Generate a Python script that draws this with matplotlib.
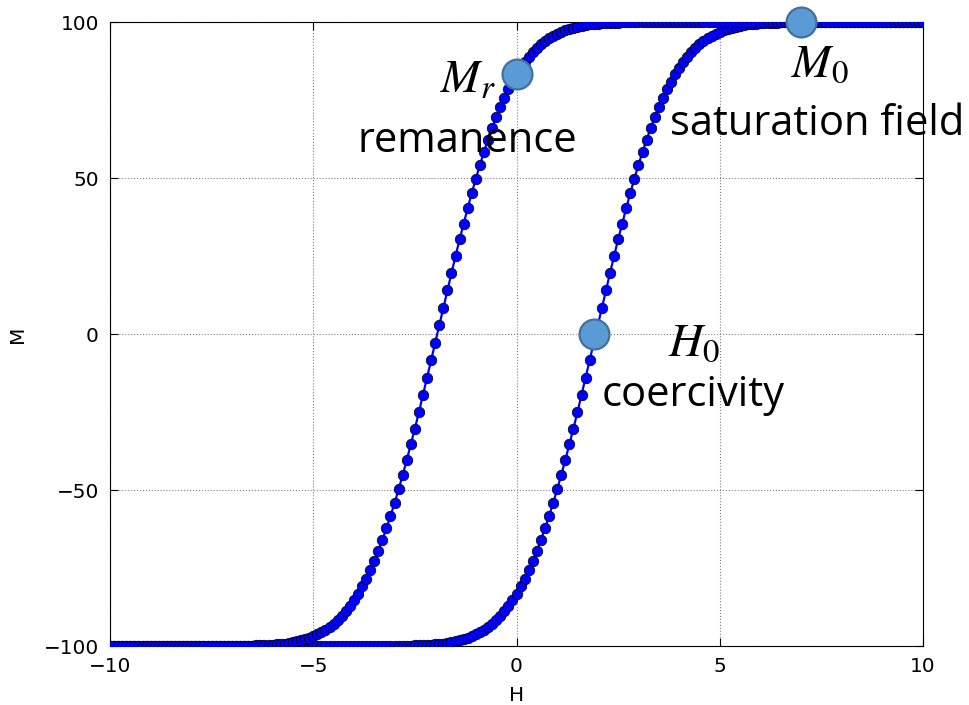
import numpy as np
import matplotlib
matplotlib.use("Agg")
import matplotlib.pyplot as plt

# Campo aplicado H, muestreado cada 0.1 entre -10 y 10
H = np.linspace(-10, 10, 201)

# Rama ascendente (de -100 a 100)
M_up = [
    -100, -100, -100, -100, -100, -100, -100, -100, -100, -100,
    -100, -100, -100, -100, -100, -100, -100, -100, -100, -100,
    -100, -100, -100, -100, -100, -100, -100, -100, -100, -100,
    -100, -100, -100, -100, -100, -100, -100, -100, -100, -100,
    -100, -100, -100, -100, -100, -100, -100, -100, -100, -100,
    -100, -100, -100, -100, -100, -100, -100, -100, -100, -100,
    -100, -100, -100, -100, -100, -100, -100, -100, -100, -100,
    -100, -99.9, -99.9, -99.9, -99.9, -99.8, -99.8, -99.7, -99.7, -99.6,
    -99.5, -99.3, -99.2, -99.0, -98.8, -98.5, -98.2, -97.8, -97.4, -96.9,
    -96.3, -95.6, -94.8, -93.9, -92.9, -91.7, -90.3, -88.8, -87.2, -85.3,
    -83.2, -80.9, -78.4, -75.7, -72.7, -69.5, -66.0, -62.3, -58.4, -54.2,
    -49.8, -45.2, -40.4, -35.4, -30.3, -25.0, -19.5, -14.0, -8.4, -2.8,
    2.8, 8.4, 14.0, 19.5, 25.0, 30.3, 35.4, 40.4, 45.2, 49.8,
    54.2, 58.4, 62.3, 66.0, 69.5, 72.7, 75.7, 78.4, 80.9, 83.2,
    85.3, 87.2, 88.8, 90.3, 91.7, 92.9, 93.9, 94.8, 95.6, 96.3,
    96.9, 97.4, 97.8, 98.2, 98.5, 98.8, 99.0, 99.2, 99.3, 99.5,
    99.6, 99.7, 99.7, 99.8, 99.8, 99.9, 99.9, 99.9, 99.9, 100,
    100, 100, 100, 100, 100, 100, 100, 100, 100, 100,
    100, 100, 100, 100, 100, 100, 100, 100, 100, 100,
    100, 100, 100, 100, 100, 100, 100, 100, 100, 100,
    100,
]

# Rama descendente (de 100 a -100)
M_down = [
    -100, -100, -100, -100, -100, -100, -100, -100, -100, -100,
    -100, -100, -100, -100, -100, -100, -100, -100, -100, -100,
    -100, -100, -100, -100, -100, -100, -100, -100, -100, -100,
    -100, -100, -99.9, -99.9, -99.9, -99.9, -99.8, -99.8, -99.7, -99.7,
    -99.6, -99.5, -99.3, -99.2, -99.0, -98.8, -98.5, -98.2, -97.8, -97.4,
    -96.9, -96.3, -95.6, -94.8, -93.9, -92.9, -91.7, -90.3, -88.8, -87.2,
    -85.3, -83.2, -80.9, -78.4, -75.7, -72.7, -69.5, -66.0, -62.3, -58.4,
    -54.2, -49.8, -45.2, -40.4, -35.4, -30.3, -25.0, -19.5, -14.0, -8.4,
    -2.8, 2.8, 8.4, 14.0, 19.5, 25.0, 30.3, 35.4, 40.4, 45.2,
    49.8, 54.2, 58.4, 62.3, 66.0, 69.5, 72.7, 75.7, 78.4, 80.9,
    83.2, 85.3, 87.2, 88.8, 90.3, 91.7, 92.9, 93.9, 94.8, 95.6,
    96.3, 96.9, 97.4, 97.8, 98.2, 98.5, 98.8, 99.0, 99.2, 99.3,
    99.5, 99.6, 99.7, 99.7, 99.8, 99.8, 99.9, 99.9, 99.9, 99.9,
    100, 100, 100, 100, 100, 100, 100, 100, 100, 100,
    100, 100, 100, 100, 100, 100, 100, 100, 100, 100,
    100, 100, 100, 100, 100, 100, 100, 100, 100, 100,
    100, 100, 100, 100, 100, 100, 100, 100, 100, 100,
    100, 100, 100, 100, 100, 100, 100, 100, 100, 100,
    100, 100, 100, 100, 100, 100, 100, 100, 100, 100,
    100, 100, 100, 100, 100, 100, 100, 100, 100, 100,
    100,
]

# Puntos destacados: remanencia, saturacion, coercitividad
mark_H = [0, 7, 1.9]
mark_M = [83.2, 100, 0]
mark_sym = [r"$M_r$", r"$M_0$", r"$H_0$"]
mark_name = ["remanence", "saturation field", "coercivity"]

plt.rcParams["mathtext.fontset"] = "stix"

W, Hpx = 970, 705
fig = plt.figure(figsize=(W / 100, Hpx / 100), dpi=100)
ax = fig.add_axes([110 / W, 59 / Hpx, 813 / W, 624 / Hpx])

# Ciclo de histeresis
for M in (M_up, M_down):
    ax.plot(H, M, "-", color="b", lw=1.6, marker="o", ms=7.6,
            mfc="b", mec="k", mew=0.5, zorder=3)

# Circulos de los puntos destacados
ax.plot(mark_H, mark_M, "o", ms=21.5, mfc="#5B9BD5", mec="#41719C",
        mew=1.6, ls="none", clip_on=False, zorder=5)

ax.set_xlim(-10, 10)
ax.set_ylim(-100, 100)
ax.set_xticks([-10, -5, 0, 5, 10])
ax.set_yticks([-100, -50, 0, 50, 100])
ax.grid(True, color="0.5", ls=":", lw=0.8)
ax.tick_params(direction="in", top=True, right=True, labelsize=14.4,
               length=6, pad=8)
ax.set_xlabel("H", fontsize=14.4, labelpad=7)
ax.set_ylabel("M", fontsize=14.4, labelpad=12)

# Etiquetas de texto (coordenadas en pixeles de la figura)
sym_xy = [(468, 93), (820, 77), (694, 356)]
name_xy = [(467, 152), (817, 135), (693, 406)]
for s, (x, y) in zip(mark_sym, sym_xy):
    fig.text(x / W, 1 - y / Hpx, s, fontsize=34, ha="center", va="baseline")
for s, (x, y) in zip(mark_name, name_xy):
    fig.text(x / W, 1 - y / Hpx, s, fontsize=30, family="Open Sans",
             ha="center", va="baseline")

fig.savefig("out.png", dpi=100)
